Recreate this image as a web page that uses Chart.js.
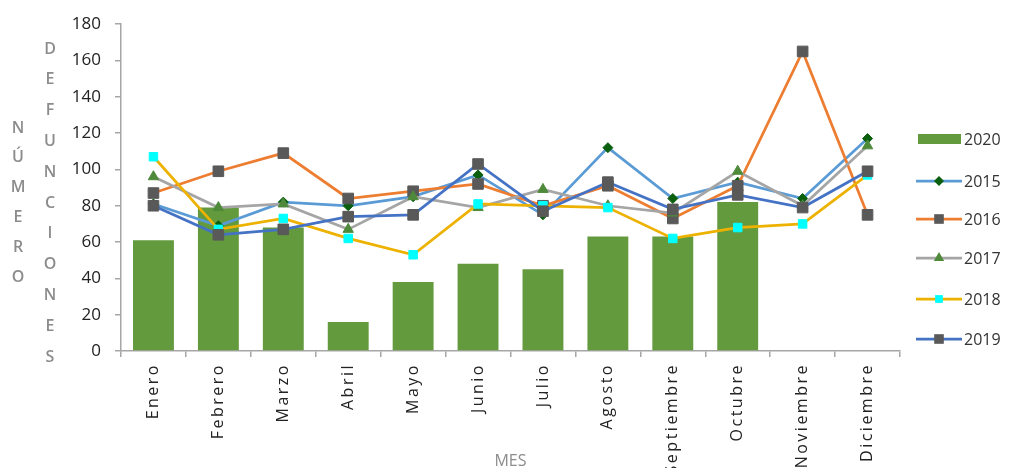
<!DOCTYPE html>
<html>
<head>
<meta charset="utf-8">
<script src="https://cdn.jsdelivr.net/npm/chart.js@4.4.1/dist/chart.umd.min.js"></script>
<style>
html,body{margin:0;padding:0;background:#fff;}
#wrap{position:relative;width:1010px;height:468px;}
</style>
</head>
<body>
<div id="wrap"><canvas id="c" width="1010" height="468"></canvas></div>
<script>
const categories = ['Enero','Febrero','Marzo','Abril','Mayo','Junio','Julio','Agosto','Septiembre','Octubre','Noviembre','Diciembre'];
const yTickValues = [0,20,40,60,80,100,120,140,160,180];
const v2020 = [61, 79, 68, 16, 38, 48, 45, 63, 63, 82, null, null];
const v2015 = [81, 69, 82, 80, 85, 97, 75, 112, 84, 93, 84, 117];
const v2016 = [87, 99, 109, 84, 88, 92, 80, 91, 73, 91, 165, 75];
const v2017 = [96, 79, 81, 67, 85, 79, 89, 80, 76, 99, 80, 113];
const v2018 = [107, 67, 73, 62, 53, 81, 80, 79, 62, 68, 70, 97];
const v2019 = [80, 64, 67, 74, 75, 103, 77, 93, 78, 86, 79, 99];
const yTitleA = 'NÚMERO';
const yTitleB = 'DEFUNCIONES';
const xTitle = 'MES';

function lineDs(label, data, color, ptStyle, ptColor, r, order){
  return {type:'line', label, data, borderColor:color, backgroundColor:color, borderWidth:2.75,
    pointStyle:ptStyle, pointRadius:r, pointBackgroundColor:ptColor, pointBorderColor:ptColor,
    pointBorderWidth:1, fill:false, tension:0, order};
}

const datasets = [
  {type:'bar', label:'2020', data:v2020, backgroundColor:'#639A3E', borderWidth:0, barPercentage:0.63, categoryPercentage:1, order:10},
  lineDs('2015', v2015, '#5B9BD5', 'rectRot', '#0B6010', 5, 6),
  lineDs('2016', v2016, '#ED7D31', 'rect', '#595959', 7.5, 5),
  lineDs('2017', v2017, '#A5A5A5', 'triangle', '#4F8A3B', 6, 4),
  lineDs('2018', v2018, '#EDB200', 'rect', '#00FFFF', 6, 3),
  lineDs('2019', v2019, '#4472C4', 'rect', '#595959', 7.5, 2)
];

function drawMarker(ctx, style, x, y, r, color){
  ctx.save();
  ctx.fillStyle = color;
  ctx.beginPath();
  if(style==='rect'){ const s=Math.SQRT1_2*r; ctx.rect(x-s,y-s,2*s,2*s); }
  else if(style==='rectRot'){ ctx.moveTo(x,y-r); ctx.lineTo(x+r,y); ctx.lineTo(x,y+r); ctx.lineTo(x-r,y); ctx.closePath(); }
  else if(style==='triangle'){ ctx.moveTo(x, y-r); ctx.lineTo(x+r*Math.sin(Math.PI/3), y+r*0.5); ctx.lineTo(x-r*Math.sin(Math.PI/3), y+r*0.5); ctx.closePath(); }
  ctx.fill();
  ctx.restore();
}

const customLegend = {
  id:'customLegend',
  afterDraw(chart){
    const ctx = chart.ctx;
    const ys = [139, 181, 219, 258, 299, 339];
    ctx.save();
    ctx.font = '16px "Open Sans"';
    ctx.fillStyle = '#333';
    ctx.textBaseline = 'middle';
    ctx.textAlign = 'left';
    chart.data.datasets.forEach((ds,i)=>{
      const y = ys[i];
      if(ds.type==='bar'){
        ctx.fillStyle = ds.backgroundColor;
        ctx.fillRect(918, y-5, 43, 10);
      } else {
        ctx.strokeStyle = ds.borderColor;
        ctx.lineWidth = 2.75;
        ctx.beginPath(); ctx.moveTo(916,y); ctx.lineTo(962,y); ctx.stroke();
        drawMarker(ctx, ds.pointStyle, 939, y, ds.pointStyle==='rect' ? (ds.pointRadius>6?6.8:5.5) : ds.pointRadius, ds.pointBackgroundColor);
      }
      ctx.fillStyle = '#333';
      ctx.fillText(ds.label, 964, y+1);
    });
    ctx.restore();
  }
};

const yTitles = {
  id:'yTitles',
  afterDraw(chart){
    const ctx = chart.ctx;
    ctx.save();
    ctx.font = '600 16px "Open Sans"';
    ctx.fillStyle = '#8C8C8C';
    ctx.textAlign = 'center';
    ctx.textBaseline = 'middle';
    [...yTitleA].forEach((ch,i)=>ctx.fillText(ch, 18, 128 + i*29.8));
    [...yTitleB].forEach((ch,i)=>ctx.fillText(ch, 50, 49 + i*30.8));
    ctx.restore();
  }
};

const spacedX = {
  id:'spacedX',
  afterLayout(chart){
    const xs = chart.scales.x;
    if(xs && !xs._spaced){
      const orig = xs.drawLabels;
      xs.drawLabels = function(area){
        const c = this.ctx; const prev = c.letterSpacing;
        c.letterSpacing = '2.5px';
        orig.call(this, area);
        c.letterSpacing = prev || '0px';
      };
      xs._spaced = true;
    }
  }
};

new Chart(document.getElementById('c'), {
  type:'bar',
  data:{labels:categories, datasets},
  options:{
    responsive:false, animation:false,
    layout:{padding:{left:0, right:110, top:19, bottom:0}},
    plugins:{legend:{display:false}, tooltip:{enabled:false}},
    scales:{
      x:{
        grid:{drawOnChartArea:false, offset:true, tickLength:6, color:'#A6A6A6', lineWidth:1.5},
        border:{color:'#A6A6A6', width:1.5},
        ticks:{minRotation:90, maxRotation:90, autoSkip:false, padding:6, color:'#222', font:{family:'Open Sans', size:16}},
        title:{display:true, text:xTitle, color:'#8C8C8C', font:{family:'Open Sans', size:16}, padding:{top:0, bottom:-3}},
        afterFit(s){ s.height = 117; }
      },
      y:{
        min:0, max:180,
        afterBuildTicks(s){ s.ticks = yTickValues.map(v=>({value:v})); },
        grid:{drawOnChartArea:false, tickLength:6, color:'#A6A6A6', lineWidth:1.5},
        border:{color:'#A6A6A6', width:1.5},
        ticks:{padding:14, color:'#222', font:{family:'Open Sans', size:17}},
        afterFit(s){ s.width = 121; }
      }
    }
  },
  plugins:[customLegend, yTitles, spacedX]
});
</script>
</body>
</html>
